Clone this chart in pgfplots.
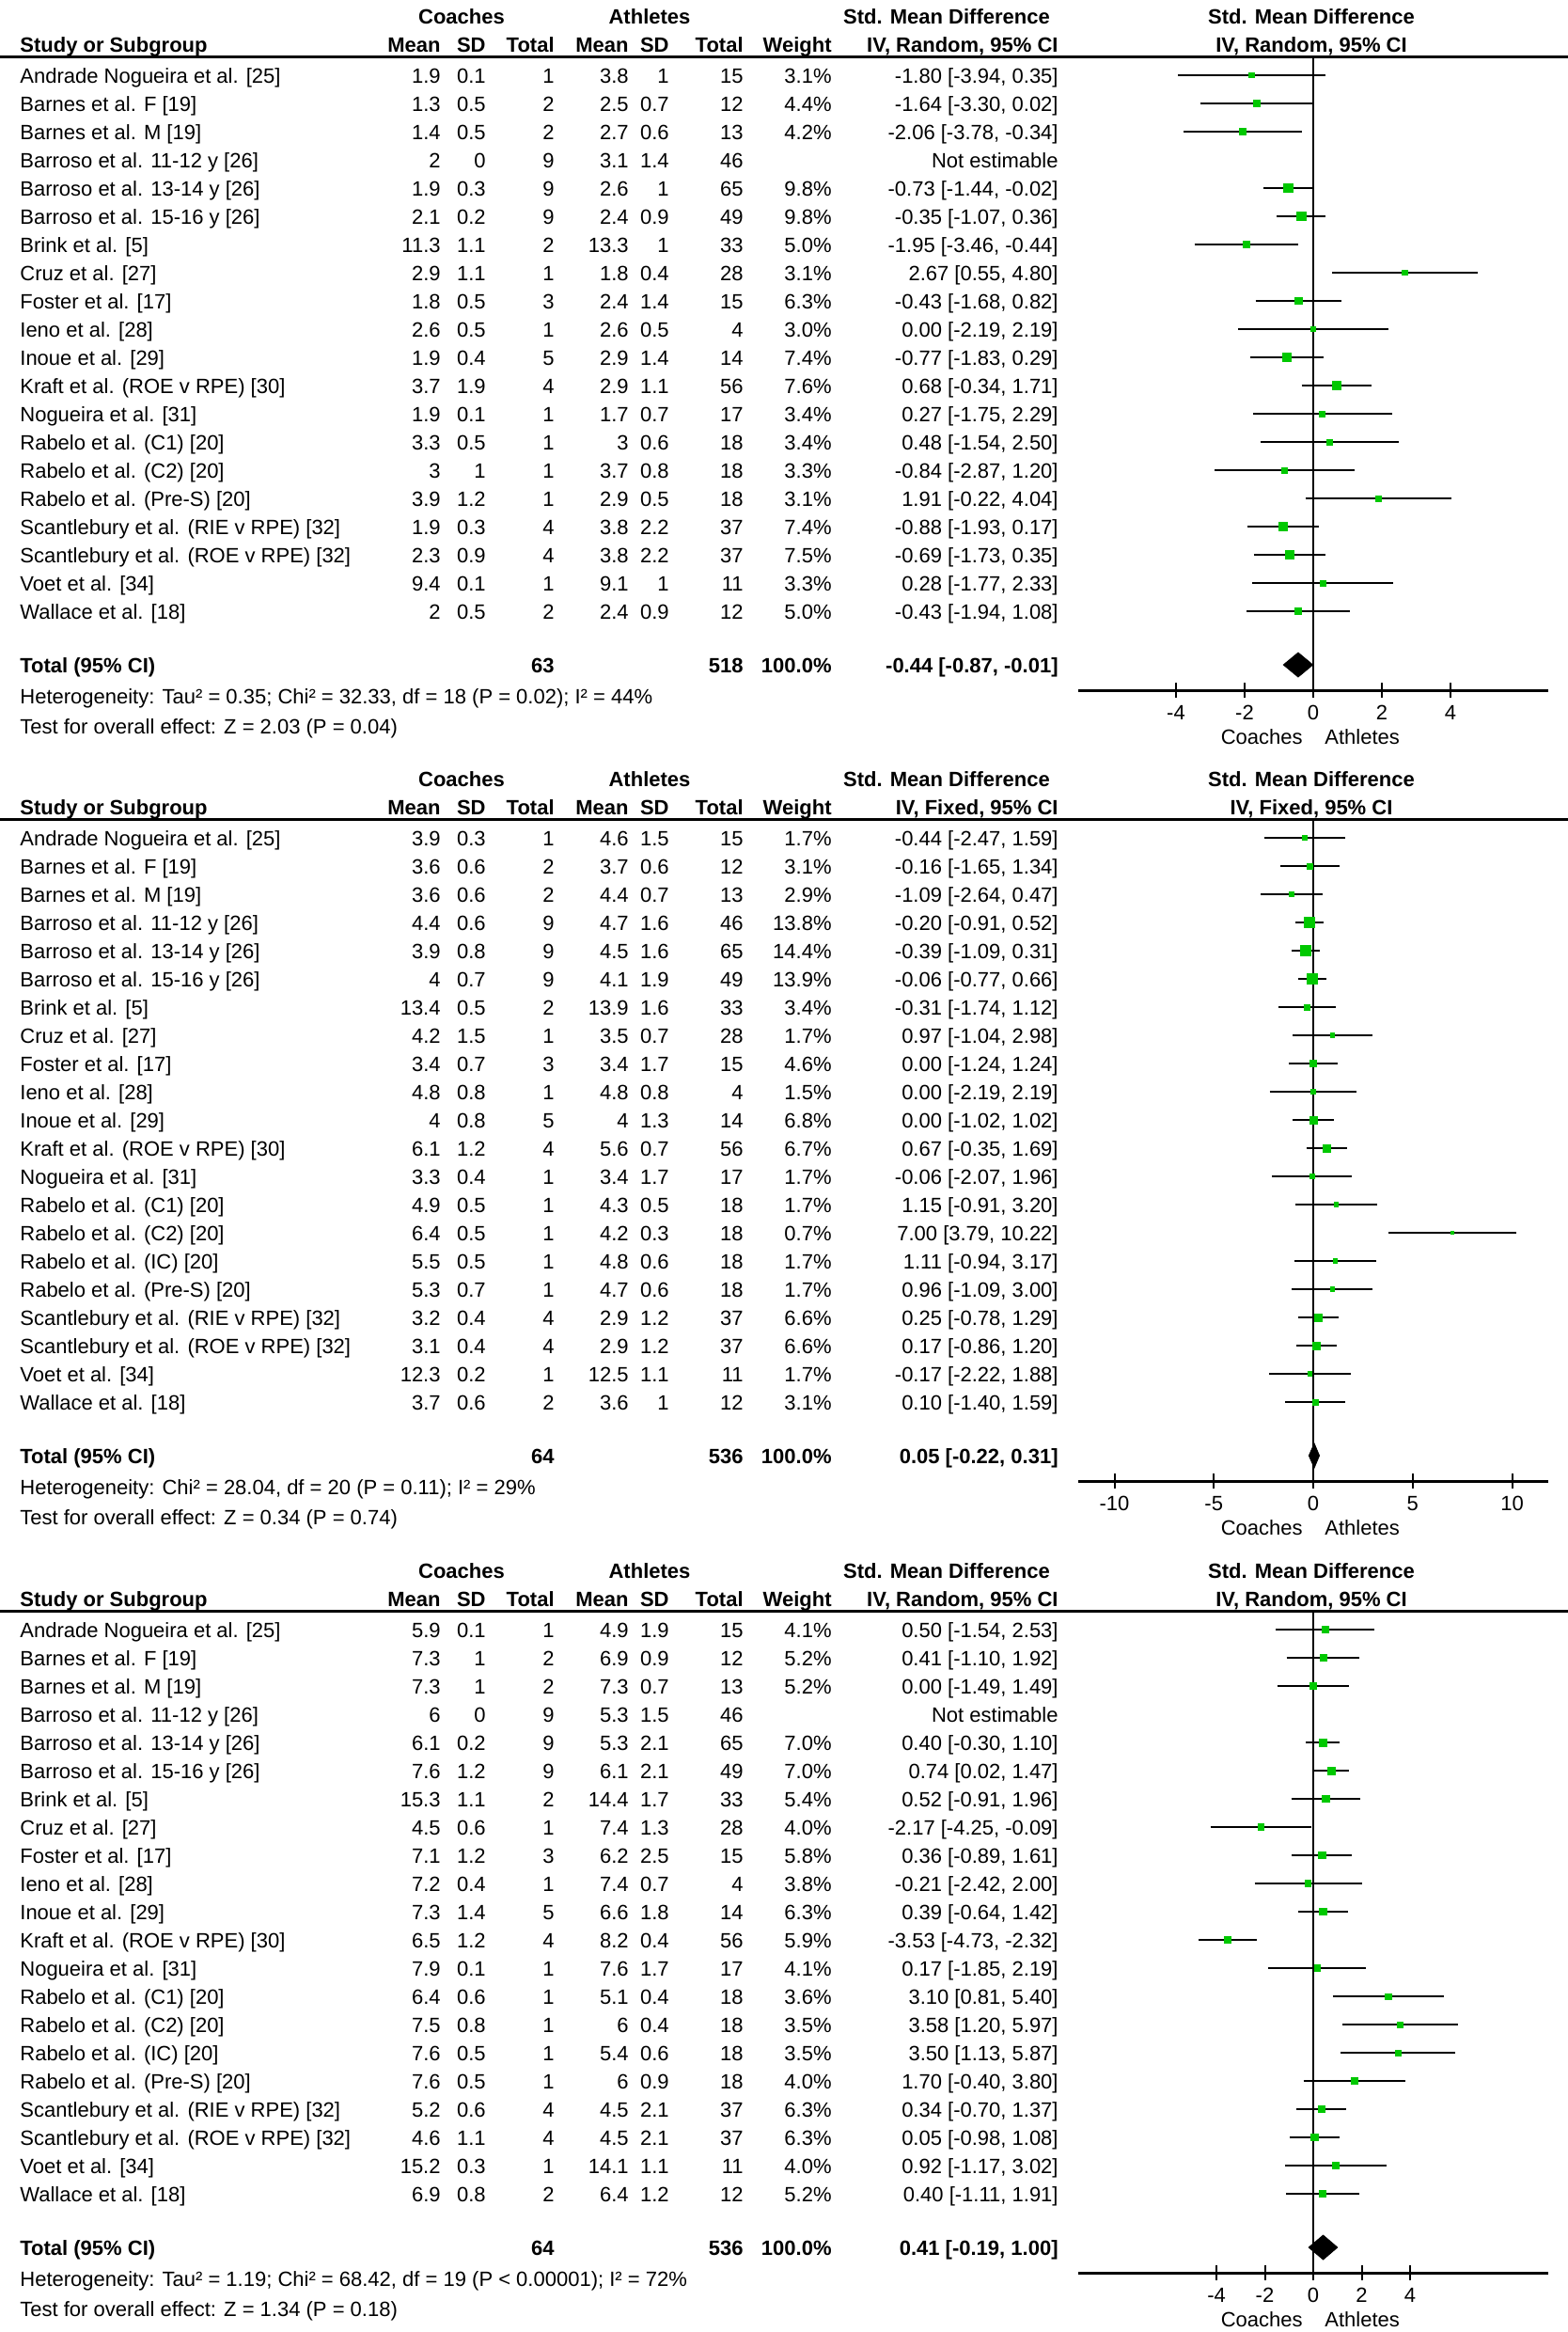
\documentclass[border=0pt]{standalone}
\usepackage{fontspec}
\setmainfont{Liberation Sans}
\usepackage{pgfplots}
\pgfplotsset{compat=1.18}
\usepackage{pgfplotstable}
\definecolor{sqgreen}{RGB}{0,200,0}

\newcommand\fs{\fontsize{11}{13}\selectfont}

% row index, SMD, lower, upper, weight (%)
\pgfplotstableread{
row smd lo hi w
0 -1.80 -3.94 0.35 3.1
1 -1.64 -3.30 0.02 4.4
2 -2.06 -3.78 -0.34 4.2
4 -0.73 -1.44 -0.02 9.8
5 -0.35 -1.07 0.36 9.8
6 -1.95 -3.46 -0.44 5.0
7 2.67 0.55 4.80 3.1
8 -0.43 -1.68 0.82 6.3
9 0.00 -2.19 2.19 3.0
10 -0.77 -1.83 0.29 7.4
11 0.68 -0.34 1.71 7.6
12 0.27 -1.75 2.29 3.4
13 0.48 -1.54 2.50 3.4
14 -0.84 -2.87 1.20 3.3
15 1.91 -0.22 4.04 3.1
16 -0.88 -1.93 0.17 7.4
17 -0.69 -1.73 0.35 7.5
18 0.28 -1.77 2.33 3.3
19 -0.43 -1.94 1.08 5.0
}\tabA

\pgfplotstableread{
row smd lo hi w
0 -0.44 -2.47 1.59 1.7
1 -0.16 -1.65 1.34 3.1
2 -1.09 -2.64 0.47 2.9
3 -0.20 -0.91 0.52 13.8
4 -0.39 -1.09 0.31 14.4
5 -0.06 -0.77 0.66 13.9
6 -0.31 -1.74 1.12 3.4
7 0.97 -1.04 2.98 1.7
8 0.00 -1.24 1.24 4.6
9 0.00 -2.19 2.19 1.5
10 0.00 -1.02 1.02 6.8
11 0.67 -0.35 1.69 6.7
12 -0.06 -2.07 1.96 1.7
13 1.15 -0.91 3.20 1.7
14 7.00 3.79 10.22 0.7
15 1.11 -0.94 3.17 1.7
16 0.96 -1.09 3.00 1.7
17 0.25 -0.78 1.29 6.6
18 0.17 -0.86 1.20 6.6
19 -0.17 -2.22 1.88 1.7
20 0.10 -1.40 1.59 3.1
}\tabB

\pgfplotstableread{
row smd lo hi w
0 0.50 -1.54 2.53 4.1
1 0.41 -1.10 1.92 5.2
2 0.00 -1.49 1.49 5.2
4 0.40 -0.30 1.10 7.0
5 0.74 0.02 1.47 7.0
6 0.52 -0.91 1.96 5.4
7 -2.17 -4.25 -0.09 4.0
8 0.36 -0.89 1.61 5.8
9 -0.21 -2.42 2.00 3.8
10 0.39 -0.64 1.42 6.3
11 -3.53 -4.73 -2.32 5.9
12 0.17 -1.85 2.19 4.1
13 3.10 0.81 5.40 3.6
14 3.58 1.20 5.97 3.5
15 3.50 1.13 5.87 3.5
16 1.70 -0.40 3.80 4.0
17 0.34 -0.70 1.37 6.3
18 0.05 -0.98 1.08 6.3
19 0.92 -1.17 3.02 4.0
20 0.40 -1.11 1.91 5.2
}\tabC

\newcommand\Row[9]{%
 \def\ry{#1}%
 \node[anchor=base west] at (21,{#1+8}) {#2};
 \node[anchor=base east] at (469,{#1+8}) {#3};
 \node[anchor=base east] at (517,{#1+8}) {#4};
 \node[anchor=base east] at (590,{#1+8}) {#5};
 \node[anchor=base east] at (669,{#1+8}) {#6};
 \node[anchor=base east] at (712,{#1+8}) {#7};
 \node[anchor=base east] at (791,{#1+8}) {#8};
 \node[anchor=base east] at (885,{#1+8}) {#9};
 \RowCI}
\newcommand\RowCI[1]{\node[anchor=base east] at (1126,{\ry+8}) {#1};}

\newcommand\Hdr[2]{%
 \node[anchor=base] at (491,{#1+8}) {\bfseries Coaches};
 \node[anchor=base] at (691,{#1+8}) {\bfseries Athletes};
 \node[anchor=base] at (1007,{#1+8}) {\bfseries Std. Mean Difference};
 \node[anchor=base] at (1395,{#1+8}) {\bfseries Std. Mean Difference};
 \node[anchor=base west] at (21,{#1+38}) {\bfseries Study or Subgroup};
 \node[anchor=base east] at (469,{#1+38}) {\bfseries Mean};
 \node[anchor=base east] at (517,{#1+38}) {\bfseries SD};
 \node[anchor=base east] at (590,{#1+38}) {\bfseries Total};
 \node[anchor=base east] at (669,{#1+38}) {\bfseries Mean};
 \node[anchor=base east] at (712,{#1+38}) {\bfseries SD};
 \node[anchor=base east] at (791,{#1+38}) {\bfseries Total};
 \node[anchor=base east] at (885,{#1+38}) {\bfseries Weight};
 \node[anchor=base east] at (1126,{#1+38}) {\bfseries IV, #2, 95\% CI};
 \node[anchor=base] at (1395,{#1+38}) {\bfseries IV, #2, 95\% CI};
 \draw[line width=1.5pt] (0,{#1+43}) -- (1668,{#1+43});
}

\newcommand\Tot[6]{%
 \node[anchor=base west] at (21,{#1+8}) {\bfseries Total (95\% CI)};
 \node[anchor=base east] at (590,{#1+8}) {\bfseries #2};
 \node[anchor=base east] at (791,{#1+8}) {\bfseries #3};
 \node[anchor=base east] at (885,{#1+8}) {\bfseries 100.0\%};
 \node[anchor=base east] at (1126,{#1+8}) {\bfseries #4};
 \node[anchor=base west] at (21,{#1+41}) {#5};
 \node[anchor=base west] at (21,{#1+73}) {#6};
 \node[anchor=base east] at (1386,{#1+84}) {Coaches};
 \node[anchor=base west] at (1409,{#1+84}) {Athletes};
}

\pgfplotsset{
 forest/.style={
  anchor=south west, scale only axis, width=250pt,
  ymax=0.6667,
  axis x line*=bottom, axis y line=none,
  x axis line style={line width=1.5pt},
  tick align=center, major tick length=8pt,
  every tick/.style={black, line width=1pt},
  xticklabel style={font=\fs, anchor=base, yshift=-11.5pt},
  clip=false,
 },
 ci/.style={black, line width=1.3pt, mark=none, -,
  quiver={u=\thisrow{hi}-\thisrow{lo}, v=0}},
 sq/.style={scatter, only marks, mark=square*,
  scatter/use mapped color={draw=sqgreen, fill=sqgreen},
  point meta=explicit,
  visualization depends on={0.3+0.65*sqrt(\thisrow{w}) \as \msize},
  scatter/@pre marker code/.append style={/tikz/mark size=\msize pt}},
}

\begin{document}
\begin{tikzpicture}
\useasboundingbox (0pt,0pt) rectangle (834pt,-1240pt);
\begin{scope}[x=0.5pt, y=-0.5pt, every node/.style={font=\fs, inner sep=0pt}]
% ---------- Panel 1 ----------
\Hdr{17}{Random}
\Row{80}{Andrade Nogueira et al. [25]}{1.9}{0.1}{1}{3.8}{1}{15}{3.1\%}{-1.80 [-3.94, 0.35]}
\Row{110}{Barnes et al. F [19]}{1.3}{0.5}{2}{2.5}{0.7}{12}{4.4\%}{-1.64 [-3.30, 0.02]}
\Row{140}{Barnes et al. M [19]}{1.4}{0.5}{2}{2.7}{0.6}{13}{4.2\%}{-2.06 [-3.78, -0.34]}
\Row{170}{Barroso et al. 11-12 y [26]}{2}{0}{9}{3.1}{1.4}{46}{}{Not estimable}
\Row{200}{Barroso et al. 13-14 y [26]}{1.9}{0.3}{9}{2.6}{1}{65}{9.8\%}{-0.73 [-1.44, -0.02]}
\Row{230}{Barroso et al. 15-16 y [26]}{2.1}{0.2}{9}{2.4}{0.9}{49}{9.8\%}{-0.35 [-1.07, 0.36]}
\Row{260}{Brink et al. [5]}{11.3}{1.1}{2}{13.3}{1}{33}{5.0\%}{-1.95 [-3.46, -0.44]}
\Row{290}{Cruz et al. [27]}{2.9}{1.1}{1}{1.8}{0.4}{28}{3.1\%}{2.67 [0.55, 4.80]}
\Row{320}{Foster et al. [17]}{1.8}{0.5}{3}{2.4}{1.4}{15}{6.3\%}{-0.43 [-1.68, 0.82]}
\Row{350}{Ieno et al. [28]}{2.6}{0.5}{1}{2.6}{0.5}{4}{3.0\%}{0.00 [-2.19, 2.19]}
\Row{380}{Inoue et al. [29]}{1.9}{0.4}{5}{2.9}{1.4}{14}{7.4\%}{-0.77 [-1.83, 0.29]}
\Row{410}{Kraft et al. (ROE v RPE) [30]}{3.7}{1.9}{4}{2.9}{1.1}{56}{7.6\%}{0.68 [-0.34, 1.71]}
\Row{440}{Nogueira et al. [31]}{1.9}{0.1}{1}{1.7}{0.7}{17}{3.4\%}{0.27 [-1.75, 2.29]}
\Row{470}{Rabelo et al. (C1) [20]}{3.3}{0.5}{1}{3}{0.6}{18}{3.4\%}{0.48 [-1.54, 2.50]}
\Row{500}{Rabelo et al. (C2) [20]}{3}{1}{1}{3.7}{0.8}{18}{3.3\%}{-0.84 [-2.87, 1.20]}
\Row{530}{Rabelo et al. (Pre-S) [20]}{3.9}{1.2}{1}{2.9}{0.5}{18}{3.1\%}{1.91 [-0.22, 4.04]}
\Row{560}{Scantlebury et al. (RIE v RPE) [32]}{1.9}{0.3}{4}{3.8}{2.2}{37}{7.4\%}{-0.88 [-1.93, 0.17]}
\Row{590}{Scantlebury et al. (ROE v RPE) [32]}{2.3}{0.9}{4}{3.8}{2.2}{37}{7.5\%}{-0.69 [-1.73, 0.35]}
\Row{620}{Voet et al. [34]}{9.4}{0.1}{1}{9.1}{1}{11}{3.3\%}{0.28 [-1.77, 2.33]}
\Row{650}{Wallace et al. [18]}{2}{0.5}{2}{2.4}{0.9}{12}{5.0\%}{-0.43 [-1.94, 1.08]}
\Tot{707}{63}{518}{-0.44 [-0.87, -0.01]}{Heterogeneity: Tau² = 0.35; Chi² = 32.33, df = 18 (P = 0.02); I² = 44\%}{Test for overall effect: Z = 2.03 (P = 0.04)}
% ---------- Panel 2 ----------
\Hdr{828}{Fixed}
\Row{891}{Andrade Nogueira et al. [25]}{3.9}{0.3}{1}{4.6}{1.5}{15}{1.7\%}{-0.44 [-2.47, 1.59]}
\Row{921}{Barnes et al. F [19]}{3.6}{0.6}{2}{3.7}{0.6}{12}{3.1\%}{-0.16 [-1.65, 1.34]}
\Row{951}{Barnes et al. M [19]}{3.6}{0.6}{2}{4.4}{0.7}{13}{2.9\%}{-1.09 [-2.64, 0.47]}
\Row{981}{Barroso et al. 11-12 y [26]}{4.4}{0.6}{9}{4.7}{1.6}{46}{13.8\%}{-0.20 [-0.91, 0.52]}
\Row{1011}{Barroso et al. 13-14 y [26]}{3.9}{0.8}{9}{4.5}{1.6}{65}{14.4\%}{-0.39 [-1.09, 0.31]}
\Row{1041}{Barroso et al. 15-16 y [26]}{4}{0.7}{9}{4.1}{1.9}{49}{13.9\%}{-0.06 [-0.77, 0.66]}
\Row{1071}{Brink et al. [5]}{13.4}{0.5}{2}{13.9}{1.6}{33}{3.4\%}{-0.31 [-1.74, 1.12]}
\Row{1101}{Cruz et al. [27]}{4.2}{1.5}{1}{3.5}{0.7}{28}{1.7\%}{0.97 [-1.04, 2.98]}
\Row{1131}{Foster et al. [17]}{3.4}{0.7}{3}{3.4}{1.7}{15}{4.6\%}{0.00 [-1.24, 1.24]}
\Row{1161}{Ieno et al. [28]}{4.8}{0.8}{1}{4.8}{0.8}{4}{1.5\%}{0.00 [-2.19, 2.19]}
\Row{1191}{Inoue et al. [29]}{4}{0.8}{5}{4}{1.3}{14}{6.8\%}{0.00 [-1.02, 1.02]}
\Row{1221}{Kraft et al. (ROE v RPE) [30]}{6.1}{1.2}{4}{5.6}{0.7}{56}{6.7\%}{0.67 [-0.35, 1.69]}
\Row{1251}{Nogueira et al. [31]}{3.3}{0.4}{1}{3.4}{1.7}{17}{1.7\%}{-0.06 [-2.07, 1.96]}
\Row{1281}{Rabelo et al. (C1) [20]}{4.9}{0.5}{1}{4.3}{0.5}{18}{1.7\%}{1.15 [-0.91, 3.20]}
\Row{1311}{Rabelo et al. (C2) [20]}{6.4}{0.5}{1}{4.2}{0.3}{18}{0.7\%}{7.00 [3.79, 10.22]}
\Row{1341}{Rabelo et al. (IC) [20]}{5.5}{0.5}{1}{4.8}{0.6}{18}{1.7\%}{1.11 [-0.94, 3.17]}
\Row{1371}{Rabelo et al. (Pre-S) [20]}{5.3}{0.7}{1}{4.7}{0.6}{18}{1.7\%}{0.96 [-1.09, 3.00]}
\Row{1401}{Scantlebury et al. (RIE v RPE) [32]}{3.2}{0.4}{4}{2.9}{1.2}{37}{6.6\%}{0.25 [-0.78, 1.29]}
\Row{1431}{Scantlebury et al. (ROE v RPE) [32]}{3.1}{0.4}{4}{2.9}{1.2}{37}{6.6\%}{0.17 [-0.86, 1.20]}
\Row{1461}{Voet et al. [34]}{12.3}{0.2}{1}{12.5}{1.1}{11}{1.7\%}{-0.17 [-2.22, 1.88]}
\Row{1491}{Wallace et al. [18]}{3.7}{0.6}{2}{3.6}{1}{12}{3.1\%}{0.10 [-1.40, 1.59]}
\Tot{1548}{64}{536}{0.05 [-0.22, 0.31]}{Heterogeneity: Chi² = 28.04, df = 20 (P = 0.11); I² = 29\%}{Test for overall effect: Z = 0.34 (P = 0.74)}
% ---------- Panel 3 ----------
\Hdr{1670}{Random}
\Row{1733}{Andrade Nogueira et al. [25]}{5.9}{0.1}{1}{4.9}{1.9}{15}{4.1\%}{0.50 [-1.54, 2.53]}
\Row{1763}{Barnes et al. F [19]}{7.3}{1}{2}{6.9}{0.9}{12}{5.2\%}{0.41 [-1.10, 1.92]}
\Row{1793}{Barnes et al. M [19]}{7.3}{1}{2}{7.3}{0.7}{13}{5.2\%}{0.00 [-1.49, 1.49]}
\Row{1823}{Barroso et al. 11-12 y [26]}{6}{0}{9}{5.3}{1.5}{46}{}{Not estimable}
\Row{1853}{Barroso et al. 13-14 y [26]}{6.1}{0.2}{9}{5.3}{2.1}{65}{7.0\%}{0.40 [-0.30, 1.10]}
\Row{1883}{Barroso et al. 15-16 y [26]}{7.6}{1.2}{9}{6.1}{2.1}{49}{7.0\%}{0.74 [0.02, 1.47]}
\Row{1913}{Brink et al. [5]}{15.3}{1.1}{2}{14.4}{1.7}{33}{5.4\%}{0.52 [-0.91, 1.96]}
\Row{1943}{Cruz et al. [27]}{4.5}{0.6}{1}{7.4}{1.3}{28}{4.0\%}{-2.17 [-4.25, -0.09]}
\Row{1973}{Foster et al. [17]}{7.1}{1.2}{3}{6.2}{2.5}{15}{5.8\%}{0.36 [-0.89, 1.61]}
\Row{2003}{Ieno et al. [28]}{7.2}{0.4}{1}{7.4}{0.7}{4}{3.8\%}{-0.21 [-2.42, 2.00]}
\Row{2033}{Inoue et al. [29]}{7.3}{1.4}{5}{6.6}{1.8}{14}{6.3\%}{0.39 [-0.64, 1.42]}
\Row{2063}{Kraft et al. (ROE v RPE) [30]}{6.5}{1.2}{4}{8.2}{0.4}{56}{5.9\%}{-3.53 [-4.73, -2.32]}
\Row{2093}{Nogueira et al. [31]}{7.9}{0.1}{1}{7.6}{1.7}{17}{4.1\%}{0.17 [-1.85, 2.19]}
\Row{2123}{Rabelo et al. (C1) [20]}{6.4}{0.6}{1}{5.1}{0.4}{18}{3.6\%}{3.10 [0.81, 5.40]}
\Row{2153}{Rabelo et al. (C2) [20]}{7.5}{0.8}{1}{6}{0.4}{18}{3.5\%}{3.58 [1.20, 5.97]}
\Row{2183}{Rabelo et al. (IC) [20]}{7.6}{0.5}{1}{5.4}{0.6}{18}{3.5\%}{3.50 [1.13, 5.87]}
\Row{2213}{Rabelo et al. (Pre-S) [20]}{7.6}{0.5}{1}{6}{0.9}{18}{4.0\%}{1.70 [-0.40, 3.80]}
\Row{2243}{Scantlebury et al. (RIE v RPE) [32]}{5.2}{0.6}{4}{4.5}{2.1}{37}{6.3\%}{0.34 [-0.70, 1.37]}
\Row{2273}{Scantlebury et al. (ROE v RPE) [32]}{4.6}{1.1}{4}{4.5}{2.1}{37}{6.3\%}{0.05 [-0.98, 1.08]}
\Row{2303}{Voet et al. [34]}{15.2}{0.3}{1}{14.1}{1.1}{11}{4.0\%}{0.92 [-1.17, 3.02]}
\Row{2333}{Wallace et al. [18]}{6.9}{0.8}{2}{6.4}{1.2}{12}{5.2\%}{0.40 [-1.11, 1.91]}
\Tot{2390}{64}{536}{0.41 [-0.19, 1.00]}{Heterogeneity: Tau² = 1.19; Chi² = 68.42, df = 19 (P < 0.00001); I² = 72\%}{Test for overall effect: Z = 1.34 (P = 0.18)}
\end{scope}

% ---------- Forest axes ----------
\begin{axis}[forest, at={(573.5pt,-367pt)}, height=337pt,
  xmin=-6.85, xmax=6.85, ymin=-21.8,
  xtick={-4,-2,0,2,4}, xticklabels={-4,-2,0,2,4}]
\addplot[black, line width=1pt] coordinates {(0,0.6667) (0,-21.8)};
\addplot[ci] table[x=lo, y expr=-\thisrow{row}] {\tabA};
\addplot[sq] table[x=smd, y expr=-\thisrow{row}, meta=w] {\tabA};
\addplot[fill=black, draw=black] coordinates {(-0.87,-20.9) (-0.44,-20.467) (-0.01,-20.9) (-0.44,-21.333)} -- cycle;
\end{axis}

\begin{axis}[forest, at={(573.5pt,-787.5pt)}, height=352pt,
  xmin=-11.82, xmax=11.82, ymin=-22.8,
  xtick={-10,-5,0,5,10}, xticklabels={-10,-5,0,5,10}]
\addplot[black, line width=1pt] coordinates {(0,0.6667) (0,-22.8)};
\addplot[ci] table[x=lo, y expr=-\thisrow{row}] {\tabB};
\addplot[sq] table[x=smd, y expr=-\thisrow{row}, meta=w] {\tabB};
\addplot[fill=black, draw=black] coordinates {(-0.22,-21.9) (0.05,-21.467) (0.31,-21.9) (0.05,-22.333)} -- cycle;
\end{axis}

\begin{axis}[forest, at={(573.5pt,-1208.5pt)}, height=352pt,
  xmin=-9.71, xmax=9.71, ymin=-22.8,
  xtick={-4,-2,0,2,4}, xticklabels={-4,-2,0,2,4}]
\addplot[black, line width=1pt] coordinates {(0,0.6667) (0,-22.8)};
\addplot[ci] table[x=lo, y expr=-\thisrow{row}] {\tabC};
\addplot[sq] table[x=smd, y expr=-\thisrow{row}, meta=w] {\tabC};
\addplot[fill=black, draw=black] coordinates {(-0.19,-21.9) (0.41,-21.467) (1.00,-21.9) (0.41,-22.333)} -- cycle;
\end{axis}
\end{tikzpicture}
\end{document}
